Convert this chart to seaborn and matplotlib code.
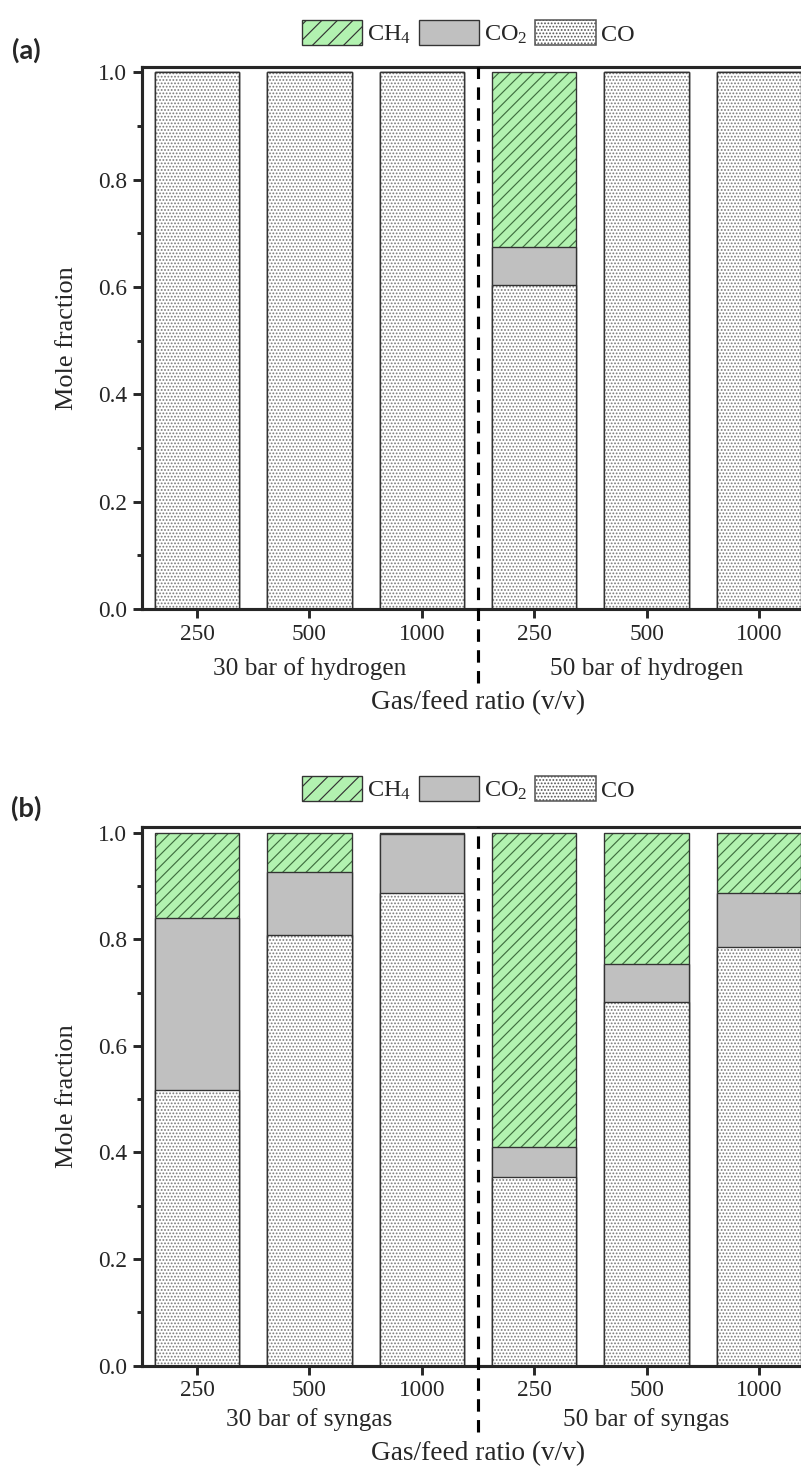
import matplotlib.pyplot as plt
import matplotlib.patches as mpatches
from matplotlib.ticker import MultipleLocator
import pandas as pd
import seaborn as sns

# categories
ratios = ["250", "500", "1000", "250", "500", "1000"]
bars = ["30-250", "30-500", "30-1000", "50-250", "50-500", "50-1000"]
groups_h2 = ["30 bar of hydrogen", "50 bar of hydrogen"]
groups_syn = ["30 bar of syngas", "50 bar of syngas"]

# (a) hydrogen - mole fractions
co_h2 = [1.0, 1.0, 1.0, 0.604, 1.0, 1.0]
co2_h2 = [0.0, 0.0, 0.0, 0.070, 0.0, 0.0]
ch4_h2 = [0.0, 0.0, 0.0, 0.326, 0.0, 0.0]

# (b) syngas
co_syn = [0.518, 0.807, 0.886, 0.354, 0.682, 0.785]
co2_syn = [0.322, 0.120, 0.112, 0.057, 0.071, 0.101]
ch4_syn = [0.160, 0.073, 0.002, 0.589, 0.247, 0.114]

DPI = 140
W, H = 801, 1475

sns.set_style("ticks")
plt.rcParams["font.family"] = ["Liberation Serif", "DejaVu Serif"]
plt.rcParams["mathtext.fontset"] = "custom"
plt.rcParams["mathtext.rm"] = "Liberation Serif"
plt.rcParams["mathtext.default"] = "regular"
plt.rcParams["hatch.linewidth"] = 0.6

CH4_FC, CH4_HC = "#b2f2b0", "#3f6e3f"
CO2_FC = "#c0c0c0"
CO_FC, CO_HC = "#ffffff", "#7a7a7a"
EDGE = "#333333"
CH4_HATCH = "////"
CO_HATCH = "......."

# layer style: fill, hatch colour, hatch
styles = {
    "total": (CH4_FC, CH4_HC, CH4_HATCH),
    "co_co2": (CO2_FC, CO2_FC, None),
    "CO": (CO_FC, CO_HC, CO_HATCH),
}


def draw_panel(ax, co, co2, ch4, groups, dash_low, grp_y, xlab_y):
    df = pd.DataFrame({"bar": bars, "CO": co, "CO2": co2, "CH4": ch4})
    df["co_co2"] = df["CO"] + df["CO2"]
    df["total"] = df["co_co2"] + df["CH4"]

    # stacked bars drawn as overlapping cumulative layers
    for col in ["total", "co_co2", "CO"]:
        fc, hc, hatch = styles[col]
        sns.barplot(data=df, x="bar", y=col, order=bars, color=fc, saturation=1,
                    width=0.75, edgecolor=hc, linewidth=0, hatch=hatch,
                    errorbar=None, ax=ax)
        sns.barplot(data=df, x="bar", y=col, order=bars, color=EDGE, fill=False,
                    width=0.75, linewidth=0.7, errorbar=None, ax=ax)

    ax.set_xlim(-0.49, 5.49)
    ax.set_ylim(0, 1.01)
    ax.set_xticks(range(len(ratios)))
    ax.set_xticklabels(ratios, fontsize=12)
    ax.set_yticks([0.0, 0.2, 0.4, 0.6, 0.8, 1.0])
    ax.yaxis.set_minor_locator(MultipleLocator(0.1))
    ax.tick_params(axis="y", labelsize=12)
    ax.tick_params(which="major", direction="out", length=4.5, width=1.5, pad=3)
    ax.tick_params(which="minor", direction="out", length=2.5, width=1.5)
    ax.spines["right"].set_visible(False)
    for s in ["left", "bottom", "top"]:
        ax.spines[s].set_linewidth(1.6)

    ax.set_ylabel("Mole fraction", fontsize=13.5)
    ax.yaxis.set_label_coords(-0.095, 0.5)
    ax.set_xlabel("Gas/feed ratio (v/v)", fontsize=14)
    ax.xaxis.set_label_coords(0.5, xlab_y)

    # divider between pressure groups
    ax.axvline(2.5, ymin=dash_low, ymax=1, color="black", lw=1.6,
               ls=(0, (4, 2.7)), clip_on=False, zorder=5)

    trans = ax.get_xaxis_transform()
    ax.text(1, grp_y, groups[0], transform=trans, ha="center", va="center", fontsize=13)
    ax.text(4, grp_y, groups[1], transform=trans, ha="center", va="center", fontsize=13)

    handles = [
        mpatches.Patch(facecolor=CH4_FC, edgecolor=EDGE, hatch="///", lw=0.7, label="CH$_4$"),
        mpatches.Patch(facecolor=CO2_FC, edgecolor=EDGE, lw=0.7, label="CO$_2$"),
        mpatches.Patch(facecolor=CO_FC, edgecolor="#555555", hatch=CO_HATCH, lw=0.8, label="CO"),
    ]
    return handles


fig = plt.figure(figsize=(W / DPI, H / DPI), dpi=DPI)
ax_a = fig.add_axes([142 / W, 1 - 609 / H, 672 / W, 542 / H])
ax_b = fig.add_axes([142 / W, 1 - 1365.6 / H, 672 / W, 538.3 / H])

h = draw_panel(ax_a, co_h2, co2_h2, ch4_h2, groups_h2, -0.137, -0.109, -0.150)
draw_panel(ax_b, co_syn, co2_syn, ch4_syn, groups_syn, -0.123, -0.101, -0.141)

for ax, ly in [(ax_a, 33), (ax_b, 789)]:
    ax.legend(handles=h, loc="center", bbox_to_anchor=(468 / W, 1 - ly / H),
              bbox_transform=fig.transFigure, ncol=3, frameon=False, fontsize=12.5,
              handlelength=2.5, handleheight=1.2, handletextpad=0.2,
              columnspacing=0.3, borderaxespad=0)

fig.text(26 / W, 1 - 50 / H, "(a)", fontsize=14, fontweight="bold",
         family=["Lato", "DejaVu Sans"], ha="center", va="center")
fig.text(26 / W, 1 - 808 / H, "(b)", fontsize=14, fontweight="bold",
         family=["Lato", "DejaVu Sans"], ha="center", va="center")

fig.savefig("out.png", dpi=DPI)
